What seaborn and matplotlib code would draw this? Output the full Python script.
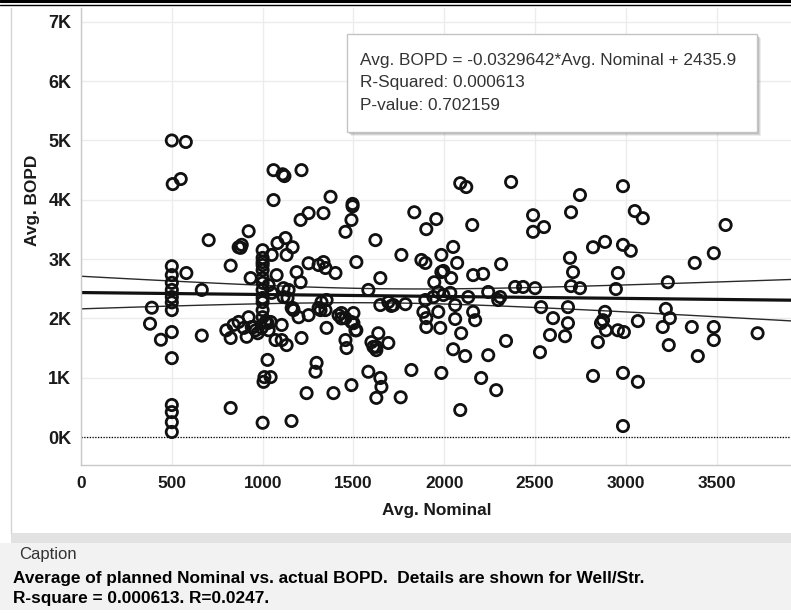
import numpy as np
import pandas as pd
import matplotlib
matplotlib.use('Agg')
import matplotlib.pyplot as plt
import seaborn as sns
from matplotlib.patches import Rectangle
from matplotlib.lines import Line2D

# ---- data (Avg. Nominal, Avg. BOPD) per Well/Str ----
pts = [
    (390, 2180), (380, 1910), (440, 1640),
    (500, 2880), (500, 2730), (500, 2600), (500, 2480), (500, 2360), (500, 2270), (500, 2140),
    (500, 1770), (500, 1330), (500, 540), (500, 420), (500, 250), (500, 85),
    (500, 5000), (577, 4975), (505, 4265), (549, 4350),
    (580, 2765), (665, 2480), (665, 1710), (703, 3320), (824, 490), (824, 2890), (800, 1800),
    (824, 1670), (868, 3200), (885, 3240), (923, 3470), (934, 2680),
    (840, 1890), (868, 1940), (896, 1840), (912, 1690), (940, 1855), (962, 1800), (995, 1840),
    (1016, 1940), (1044, 1940), (1033, 1800),
    (1000, 3150), (1000, 3020), (1000, 2950), (1000, 2900), (1000, 2815), (1000, 2680),
    (1000, 2600), (1000, 2275), (1000, 2140), (1000, 2020),
    (1010, 1010), (1005, 930), (1000, 240), (1044, 1010), (1027, 1300),
    (1050, 3070), (1050, 2430), (1077, 2730), (1082, 3270), (1126, 3355), (1132, 3070),
    (1165, 3200), (1115, 2360), (1143, 2480), (1160, 2175), (1105, 1890), (1071, 1635),
    (1105, 1635), (1132, 1550), (1170, 2140), (1198, 2020), (1214, 1670), (1187, 2780),
    (1209, 2610), (1253, 2930), (1242, 740), (1253, 2055), (1297, 1250), (1291, 1100), (1159, 270),
    (1308, 2900), (1335, 2950), (1346, 2850), (1352, 2310), (1346, 2140), (1319, 2140),
    (1401, 2765), (1352, 1840), (1390, 740), (1418, 2055), (1434, 2000), (1456, 1635),
    (1462, 1500), (1500, 2090), (1489, 1940), (1511, 1800), (1489, 875), (1516, 2950), (1456, 3460),
    (1582, 2480), (1582, 1100), (1621, 3320), (1648, 2680), (1648, 2225), (1637, 1750),
    (1599, 1600), (1626, 1520), (1692, 1585), (1648, 995), (1654, 845), (1626, 660),
    (1720, 2225), (1760, 670),
    (1060, 4500), (1110, 4430), (1120, 4400), (1214, 4500), (1060, 3995), (1374, 4050),
    (1209, 3660), (1253, 3775), (1335, 3775), (1495, 3930), (1495, 3890), (1489, 3660), (879, 3190),
    (1835, 3790), (1956, 3675), (1901, 3505), (2154, 3575), (2088, 4280), (2121, 4215),
    (2368, 4300), (2489, 3740), (2489, 3460), (2549, 3540),
    (1764, 3070), (1874, 2985), (1896, 2935), (1984, 3070), (2049, 3205), (2071, 2935),
    (1984, 2780), (2159, 2730), (2214, 2750), (2313, 2915),
    (2390, 2530), (2434, 2530), (2500, 2510),
    (2747, 4080), (2984, 4230), (2698, 3790), (3049, 3810), (3093, 3690), (3549, 3575),
    (2819, 3200), (2885, 3290), (2984, 3240), (3027, 3140), (2692, 3020), (2709, 2780),
    (2956, 2765), (3231, 2610), (3379, 2935), (3484, 3100),
    (1709, 2210), (1786, 2240), (1896, 2310), (1940, 2360), (1967, 2445), (2033, 2430),
    (1885, 2110), (1901, 2005), (1901, 1855), (1967, 2110), (1978, 1840), (2060, 2225),
    (2132, 2360), (2159, 2110), (2170, 1970), (2060, 1990), (2093, 1750), (2049, 1480),
    (2115, 1365), (2242, 1380), (2340, 1620), (2242, 2445), (2297, 2310), (2308, 2360),
    (2533, 2190), (2527, 1430), (2203, 995), (2286, 790), (2088, 455), (1984, 1080), (1819, 1130),
    (1324, 2275), (1308, 2175), (1434, 2090), (1456, 2005), (1500, 1920), (1516, 1800),
    (1610, 1520), (1626, 1465),
    (2698, 2545), (2747, 2510), (2945, 2495), (2599, 2005), (2681, 2190), (2681, 1920),
    (2582, 1720), (2665, 1700), (2885, 2110), (2874, 1970), (2863, 1920), (2890, 1800),
    (2956, 1800), (2989, 1770), (2846, 1600), (3066, 1955), (2819, 1030), (2984, 1080),
    (3066, 930), (2984, 185), (3220, 2160), (3242, 2005), (3203, 1855), (3236, 1550),
    (3363, 1855), (3396, 1365), (3484, 1855), (3484, 1635), (3725, 1750),
    (923, 2020), (973, 1750), (1000, 2345), (1115, 2510), (1137, 2345), (1165, 2175),
    (1027, 1920), (951, 1855), (1000, 2480), (1033, 2560),
    (1995, 2800), (2038, 2680), (1945, 2610), (1995, 2395), (1692, 2275),
]
nominal = [p[0] for p in pts]
bopd = [p[1] for p in pts]

# trend line as reported by the chart
slope = -0.0329642
intercept = 2435.9
trend_text = ['Avg. BOPD = -0.0329642*Avg. Nominal + 2435.9',
              'R-Squared: 0.000613',
              'P-value: 0.702159']
caption = ['Average of planned Nominal vs. actual BOPD.  Details are shown for Well/Str.',
           'R-square = 0.000613. R=0.0247.']

y_ticks = [0, 1000, 2000, 3000, 4000, 5000, 6000, 7000]
y_labels = ['0K', '1K', '2K', '3K', '4K', '5K', '6K', '7K']
x_ticks = [0, 500, 1000, 1500, 2000, 2500, 3000, 3500]

df = pd.DataFrame({'Avg. Nominal': nominal, 'Avg. BOPD': bopd})

# 95% confidence band of the trend line
xs = np.linspace(0, 3909, 120)
fit = intercept + slope * xs
resid = df['Avg. BOPD'] - (intercept + slope * df['Avg. Nominal'])
n = len(df)
s = np.sqrt((resid ** 2).sum() / (n - 2))
xbar = df['Avg. Nominal'].mean()
sxx = ((df['Avg. Nominal'] - xbar) ** 2).sum()
se = s * np.sqrt(1 / n + (xs - xbar) ** 2 / sxx)
band = pd.DataFrame({'x': xs, 'fit': fit, 'lo': fit - 1.97 * se, 'hi': fit + 1.97 * se})

sns.set_style('white')
plt.rcParams['font.family'] = ['Liberation Sans', 'DejaVu Sans']

W, H = 791, 614
fx = lambda px: px / W
fy = lambda py: 1 - py / H

fig = plt.figure(figsize=(W / 100, H / 100), dpi=100)
fig.patch.set_facecolor('white')

# pane frame / caption area
fig.add_artist(Line2D([fx(11), fx(11)], [fy(8), fy(533)], color='#d4d4d4', lw=1))
fig.add_artist(Rectangle((fx(11), fy(543)), 1, 10 / H, color='#e2e2e2', lw=0))
fig.add_artist(Rectangle((fx(0), fy(610)), 1, 67 / H, color='#f2f2f2', lw=0))
fig.add_artist(Line2D([0, 1], [fy(1.3), fy(1.3)], color='black', lw=2.2))
fig.add_artist(Line2D([0, 1], [fy(4.8), fy(4.8)], color='black', lw=1.0))

ax = fig.add_axes([fx(81), fy(465), fx(791) - fx(81), (465 - 8) / H])
ax.set_xlim(0, 3909)
ax.set_ylim(-472, 7234)

ax.set_yticks(y_ticks)
ax.set_yticklabels(y_labels)
ax.set_xticks(x_ticks)
ax.grid(True, color='#ececec', lw=1)
ax.axhline(0, color='black', ls=(0, (1, 1.2)), lw=0.9, zorder=1)

sns.lineplot(data=band, x='x', y='hi', ax=ax, color='#2a2a2a', lw=1.0, zorder=2)
sns.lineplot(data=band, x='x', y='lo', ax=ax, color='#2a2a2a', lw=1.0, zorder=2)
sns.lineplot(data=band, x='x', y='fit', ax=ax, color='#111111', lw=2.3, zorder=2)

sns.scatterplot(data=df, x='Avg. Nominal', y='Avg. BOPD', ax=ax, s=66, marker='o',
                linewidth=2.0, zorder=3)
sc = ax.collections[-1]
sc.set_facecolor('none')
sc.set_edgecolor('#111111')

ax.set_xlabel('')
ax.set_ylabel('')
for sp in ['top', 'right']:
    ax.spines[sp].set_visible(False)
for sp in ['left', 'bottom']:
    ax.spines[sp].set_color('#c8c8c8')
    ax.spines[sp].set_linewidth(1)
ax.tick_params(axis='y', length=5, width=1, color='#d0d0d0', pad=2, labelsize=13, labelcolor='#1a1a1a')
ax.tick_params(axis='x', length=4, width=1, color='#d0d0d0', pad=4, labelsize=12.4, labelcolor='#1a1a1a')
for t in ax.get_xticklabels() + ax.get_yticklabels():
    t.set_fontweight('bold')

fig.text(fx(437), fy(511), 'Avg. Nominal', ha='center', va='center', fontsize=12.4,
         fontweight='bold', color='#1a1a1a')
fig.text(fx(33), fy(200), 'Avg. BOPD', ha='center', va='center', rotation=90, fontsize=12.4,
         fontweight='bold', color='#1a1a1a')

# trend line tooltip box
for off, a in [(4, 0.10), (3, 0.15), (2, 0.2)]:
    fig.add_artist(Rectangle((fx(347 + off), fy(132 + off)), (757 - 347) / W, (132 - 34) / H,
                             color='#555555', alpha=a, lw=0))
fig.add_artist(Rectangle((fx(347), fy(132)), (757 - 347) / W, (132 - 34) / H,
                         facecolor='white', edgecolor='#c4c4c4', lw=1))
for i, line in enumerate(trend_text):
    fig.text(fx(360), fy(60 + 23 * i), line, ha='left', va='center', fontsize=12.4, color='#333333')

fig.text(fx(19), fy(555), 'Caption', ha='left', va='center', fontsize=12, color='#333333')
for i, line in enumerate(caption):
    fig.text(fx(13), fy(579 + 20 * i), line, ha='left', va='center', fontsize=12.4,
             fontweight='bold', color='black')

fig.savefig('out.png', dpi=100)
